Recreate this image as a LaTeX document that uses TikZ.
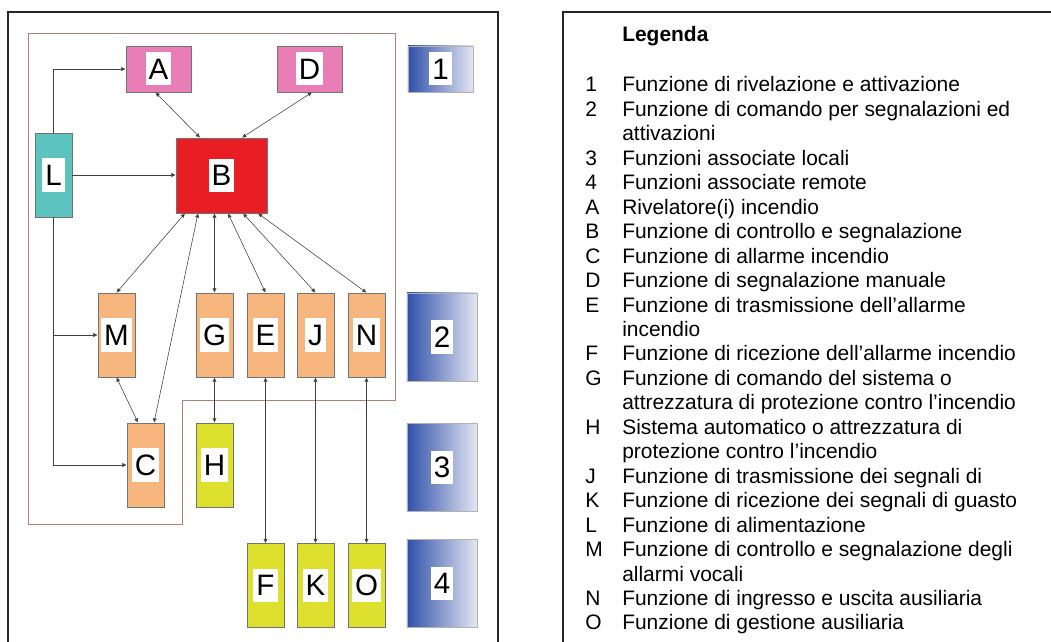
\documentclass[tikz,border=0pt]{standalone}
\usepackage{fontspec}
\setmainfont{Liberation Sans}
\usetikzlibrary{arrows.meta,calc}

\definecolor{pinkfn}{RGB}{233,126,182}
\definecolor{redfn}{RGB}{232,30,36}
\definecolor{tealfn}{RGB}{92,195,190}
\definecolor{orangefn}{RGB}{246,182,126}
\definecolor{yellowfn}{RGB}{222,224,46}
\definecolor{bluefn}{RGB}{48,80,170}
\definecolor{midfn}{RGB}{108,128,194}
\definecolor{palefn}{RGB}{228,230,242}
\definecolor{zonefn}{RGB}{176,128,124}

\begin{document}
\begin{tikzpicture}[x=0.025cm,y=-0.025cm,>={Latex[length=3pt,width=3pt]},
  fn/.style={draw=black!55,line width=.5pt,minimum width=.925cm,minimum height=2.1cm,inner sep=0pt},
  pk/.style={fn,fill=pinkfn,minimum width=1.625cm,minimum height=1.15cm},
  rd/.style={fn,fill=redfn,minimum width=2.275cm,minimum height=1.875cm},
  tl/.style={fn,fill=tealfn},
  og/.style={fn,fill=orangefn},
  yl/.style={fn,fill=yellowfn},
  nb/.style={fn,draw=black!30,left color=bluefn,middle color=midfn,right color=palefn,minimum width=1.75cm,minimum height=2.2cm},
  wt/.style={fill=white,inner xsep=.075cm,inner ysep=0pt,minimum height=.825cm,font=\fontsize{21}{21}\selectfont},
  lk/.style={black!75,line width=.4pt},
  frame/.style={black!85,line width=1.8pt},
  legtxt/.style={anchor=base west,inner sep=0pt,font=\fontsize{14.9}{17.3}\selectfont}]
  \useasboundingbox (0,0) rectangle (1051,642);
  % frames
  \draw[frame] (8,660) -- (8,12) -- (498,12) -- (498,660);
  \draw[frame] (563,660) -- (563,12) -- (1070,12);
  \draw[zonefn,line width=.5pt] (28,33) -- (395,33) -- (395,400) -- (182,400) -- (182,524) -- (28,524) -- cycle;
  % function blocks
  \foreach \n/\s/\x/\y in {A/pk/158.5/69,D/pk/309.5/69,L/tl/53.5/175,B/rd/221.5/175.5,
    M/og/116.5/335,G/og/214.5/335,E/og/265.5/335,J/og/315.5/335,N/og/366.5/335,
    C/og/145.5/465,H/yl/214.5/465,F/yl/265.5/585.5,K/yl/315.5/585.5,O/yl/366.5/585.5}
    {\node[\s] (\n) at (\x,\y) {};\node[wt] (t\n) at (\n) {\n};}
  % levels
  \node[nb,minimum width=1.625cm,minimum height=1.15cm] (z1) at (440.5,69) {};
  \node[nb] (z2) at (442,337) {};\node[nb] (z3) at (442,467.5) {};\node[nb] (z4) at (442,583.5) {};
  \foreach \n in {1,...,4} \node[wt] (tz\n) at (z\n) {\n};
  % connections
  \draw[<->,lk] ($(A.south)+(-3,0)$) -- ($(B.north)+(-21.5,0)$);
  \draw[<->,lk] ($(D.south)+(2.5,0)$) -- ($(B.north)+(20.5,0)$);
  \draw[->,lk] (L.north) |- (A.west);
  \draw[->,lk] (L.east) -- (L.east -| B.west);
  \draw[->,lk] (L.south) |- (M.west);
  \draw[->,lk] (L.south) |- (C.west);
  \draw[<->,lk] ($(B.south)+(-36.5,0)$) -- (M.north);
  \draw[<->,lk] ($(B.south)+(-23.5,0)$) -- ($(C.north)+(8.5,0)$);
  \draw[<->,lk] (M.south) -- ($(C.north)+(-7.5,0)$);
  \draw[<->,lk] ($(B.south)+(-7,0)$) -- (G.north);
  \draw[<->,lk] ($(B.south)+(6.5,0)$) -- (E.north);
  \draw[<->,lk] ($(B.south)+(21.5,0)$) -- (J.north);
  \draw[<->,lk] ($(B.south)+(36.5,0)$) -- (N.north);
  \foreach \u/\v in {G/H,E/F,J/K,N/O} \draw[<->,lk] (\u.south) -- (\v.north);
  % legend
  \node[legtxt,font=\fontsize{14.9}{17.3}\selectfont\bfseries] (leg) at (622,42) {Legenda};
  \foreach \k/\t [count=\i] in {1/Funzione di rivelazione e attivazione,
    2/Funzione di comando per segnalazioni ed,/attivazioni,
    3/Funzioni associate locali,4/Funzioni associate remote,
    A/Rivelatore(i) incendio,B/Funzione di controllo e segnalazione,
    C/Funzione di allarme incendio,D/Funzione di segnalazione manuale,
    E/Funzione di trasmissione dell’allarme,/incendio,
    F/Funzione di ricezione dell’allarme incendio,
    G/Funzione di comando del sistema o,/attrezzatura di protezione contro l’incendio,
    H/Sistema automatico o attrezzatura di,/protezione contro l’incendio,
    J/Funzione di trasmissione dei segnali di,
    K/Funzione di ricezione dei segnali di guasto,
    L/Funzione di alimentazione,
    M/Funzione di controllo e segnalazione degli,/allarmi vocali,
    N/Funzione di ingresso e uscita ausiliaria,
    O/Funzione di gestione ausiliaria}
    {\node[legtxt] (k\i) at (585,{92+24.45*(\i-1)}) {\k};
     \node[legtxt] (l\i) at (622,{92+24.45*(\i-1)}) {\t};}
\end{tikzpicture}
\end{document}
